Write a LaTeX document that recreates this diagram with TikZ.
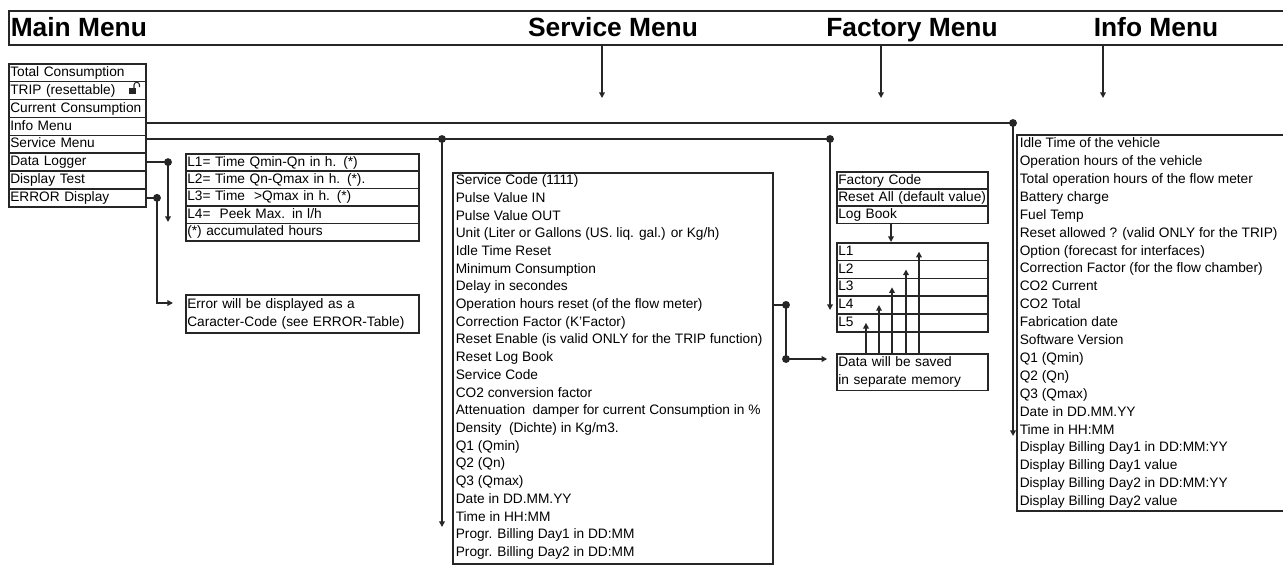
\documentclass[tikz,border=0pt]{standalone}
\usepackage{fontspec}
\setmainfont{Liberation Sans}
\usetikzlibrary{arrows.meta}

\newcommand\ft{\fontsize{7.8}{9.4}\selectfont}

\begin{document}
\begin{tikzpicture}[x=0.02cm, y=-0.02cm, line width=0.9pt, color=black!85,
  cell/.style={draw, anchor=north west, inner xsep=0.03cm, inner ysep=0pt, align=left,
    text height=6pt, text depth=1.8pt, font=\ft, text=black},
  lbl/.style={anchor=west, inner sep=0pt, text height=6pt, text depth=1.8pt, font=\ft, text=black},
  note/.style={draw, anchor=north west, inner xsep=0.03cm, inner ysep=0.06cm, align=left,
    font=\fontsize{7.8}{10.2}\selectfont, text=black},
  title/.style={font=\fontsize{15}{18}\selectfont\bfseries, inner sep=0pt, text=black, anchor=base},
  dot/.style={circle, fill=black!85, inner sep=0pt, minimum size=4.5pt},
  arr/.style={-{Triangle[length=3.2pt,width=3.2pt]}}]
\useasboundingbox (0,0) rectangle (1283,575);
% header bar (1px = 0.02cm, y grows downwards)
\node[draw, anchor=north west, minimum width=25.7cm, minimum height=0.68cm, inner sep=0pt] (hdr) at (8,10) {};
\node[title, anchor=base west] (mmt) at (10,36) {Main Menu};
\node[title] (smt) at (613,36) {Service Menu};
\node[title] (fmt) at (912,36) {Factory Menu};
\node[title] (imt) at (1156,36) {Info Menu};
\foreach \xx/\nm in {602/svin, 881/fcin, 1103/ifin} {
  \coordinate (\nm) at (\xx,98);
  \draw[arr] (\xx,0 |- hdr.south) -- (\nm);
}
% main menu
\foreach \nm/\txt [count=\i from 0] in {tot/{Total Consumption}, trip/{TRIP (resettable)},
    curr/{Current Consumption}, infm/{Info Menu}, svcm/{Service Menu}, dlog/{Data Logger},
    dtest/{Display Test}, errd/{ERROR Display}}
  \node[cell, text width=2.68cm, minimum height=0.3575cm] (\nm) at (8,63+17.875*\i) {\txt};
% open padlock after TRIP
\fill (129,88) rectangle (136,94);
\draw[line width=0.6pt] (134,88) -- (134,85) arc[start angle=180, end angle=0, radius=0.055cm] -- (139.5,87);
% data logger
\foreach \nm/\txt [count=\i from 0] in {dl1/{L1= Time Qmin-Qn in h. (*)}, dl2/{L2= Time Qn-Qmax in h. (*).},
    dl3/{L3= Time\ \ >Qmax in h. (*)}, dl4/{L4=\ \ Peek Max. in l/h}, dl5/{(*) accumulated hours}}
  \node[cell, text width=4.6cm, minimum height=0.348cm] (\nm) at (185,153+17.4*\i) {\txt};
\node[dot] (dldot) at (168,0 |- dlog.east) {};
\coordinate (dlend) at (168,222);
\draw (dlog.east) -- (dldot.center);
\draw[arr] (dldot.center) -- (dlend);
% error display
\node[note, text width=4.6cm, minimum height=0.76cm] (errb) at (185,294)
  {Error will be displayed as a\\Caracter-Code (see ERROR-Table)};
\node[dot] (erdot) at (157,0 |- errd.east) {};
\coordinate (erend) at (173,303);
\draw (errd.east) -- (erdot.center);
\draw[arr] (erdot.center) |- (erend);
% service menu
\node[draw, anchor=north west, minimum width=6.4cm, minimum height=7.82cm, inner sep=0pt] (svbox) at (452,172) {};
\foreach \txt [count=\i from 0] in {{Service Code (1111)}, {Pulse Value IN}, {Pulse Value OUT},
    {Unit (Liter or Gallons (US. liq. gal.) or Kg/h)}, {Idle Time Reset}, {Minimum Consumption},
    {Delay in secondes}, {Operation hours reset (of the flow meter)}, {Correction Factor (K'Factor)},
    {Reset Enable (is valid ONLY for the TRIP function)}, {Reset Log Book}, {Service Code},
    {CO2 conversion factor}, {Attenuation\ \ damper for current Consumption in \%},
    {Density\ \ (Dichte) in Kg/m3.}, {Q1 (Qmin)}, {Q2 (Qn)}, {Q3 (Qmax)}, {Date in DD.MM.YY},
    {Time in HH:MM}, {Progr. Billing Day1 in DD:MM}, {Progr. Billing Day2 in DD:MM}}
  \node[lbl] (sv\i) at (455,181+17.7*\i) {\txt};
\node[dot] (svdot) at (442,139) {};
\node[dot] (fcdot) at (830,139) {};
\coordinate (svend) at (442,527);
\coordinate (fcend) at (830,310);
\draw (svcm.east |- svdot) -- (svdot.center) -- (fcdot.center);
\draw[arr] (svdot.center) -- (svend);
\draw[arr] (fcdot.center) -- (fcend);
% factory menu
\foreach \nm/\txt [count=\i from 0] in {fcode/{Factory Code}, fres/{Reset All (default value)}, flog/{Log Book}}
  \node[cell, text width=2.96cm, minimum height=0.344cm] (\nm) at (836,171+17.2*\i) {\txt};
\foreach \i in {1,...,5}
  \node[cell, text width=2.96cm, minimum height=0.356cm] (fl\i) at (836,242+17.8*\i-17.8) {L\i};
\draw[arr] (891,0 |- flog.south) -- (891,0 |- fl1.north);
\node[note, text width=2.96cm, minimum height=0.7cm] (datab) at (836,353) {Data will be saved\\in separate memory};
\foreach \xx/\k in {866/5, 879/4, 892/3, 906/2, 919/1}
  \draw[arr] (\xx,0 |- datab.north) -- (\xx,0 |- fl\k);
\node[dot] (opdot) at (786,0 |- sv7) {};
\node[dot] (dsdot) at (786,359) {};
\draw (svbox.east |- opdot) -- (opdot.center) -- (dsdot.center);
\draw[arr, shorten >=5pt] (dsdot.center) -- (datab.west |- dsdot);
% info menu
\node[draw, anchor=north west, minimum width=5.6cm, minimum height=7.52cm, inner sep=0pt] (ifbox) at (1016,134) {};
\foreach \txt [count=\i from 0] in {{Idle Time of the vehicle}, {Operation hours of the vehicle},
    {Total operation hours of the flow meter}, {Battery charge}, {Fuel Temp},
    {Reset allowed ? (valid ONLY for the TRIP)}, {Option (forecast for interfaces)},
    {Correction Factor (for the flow chamber)}, {CO2 Current}, {CO2 Total}, {Fabrication date},
    {Software Version}, {Q1 (Qmin)}, {Q2 (Qn)}, {Q3 (Qmax)}, {Date in DD.MM.YY}, {Time in HH:MM},
    {Display Billing Day1 in DD:MM:YY}, {Display Billing Day1 value},
    {Display Billing Day2 in DD:MM:YY}, {Display Billing Day2 value}}
  \node[lbl] (if\i) at (1019,144+17.9*\i) {\txt};
\node[dot] (ifdot) at (1013,123) {};
\coordinate (ifend) at (1013,436);
\draw (infm.east |- ifdot) -- (ifdot.center);
\draw[arr] (ifdot.center) -- (ifend);
\end{tikzpicture}
\end{document}
